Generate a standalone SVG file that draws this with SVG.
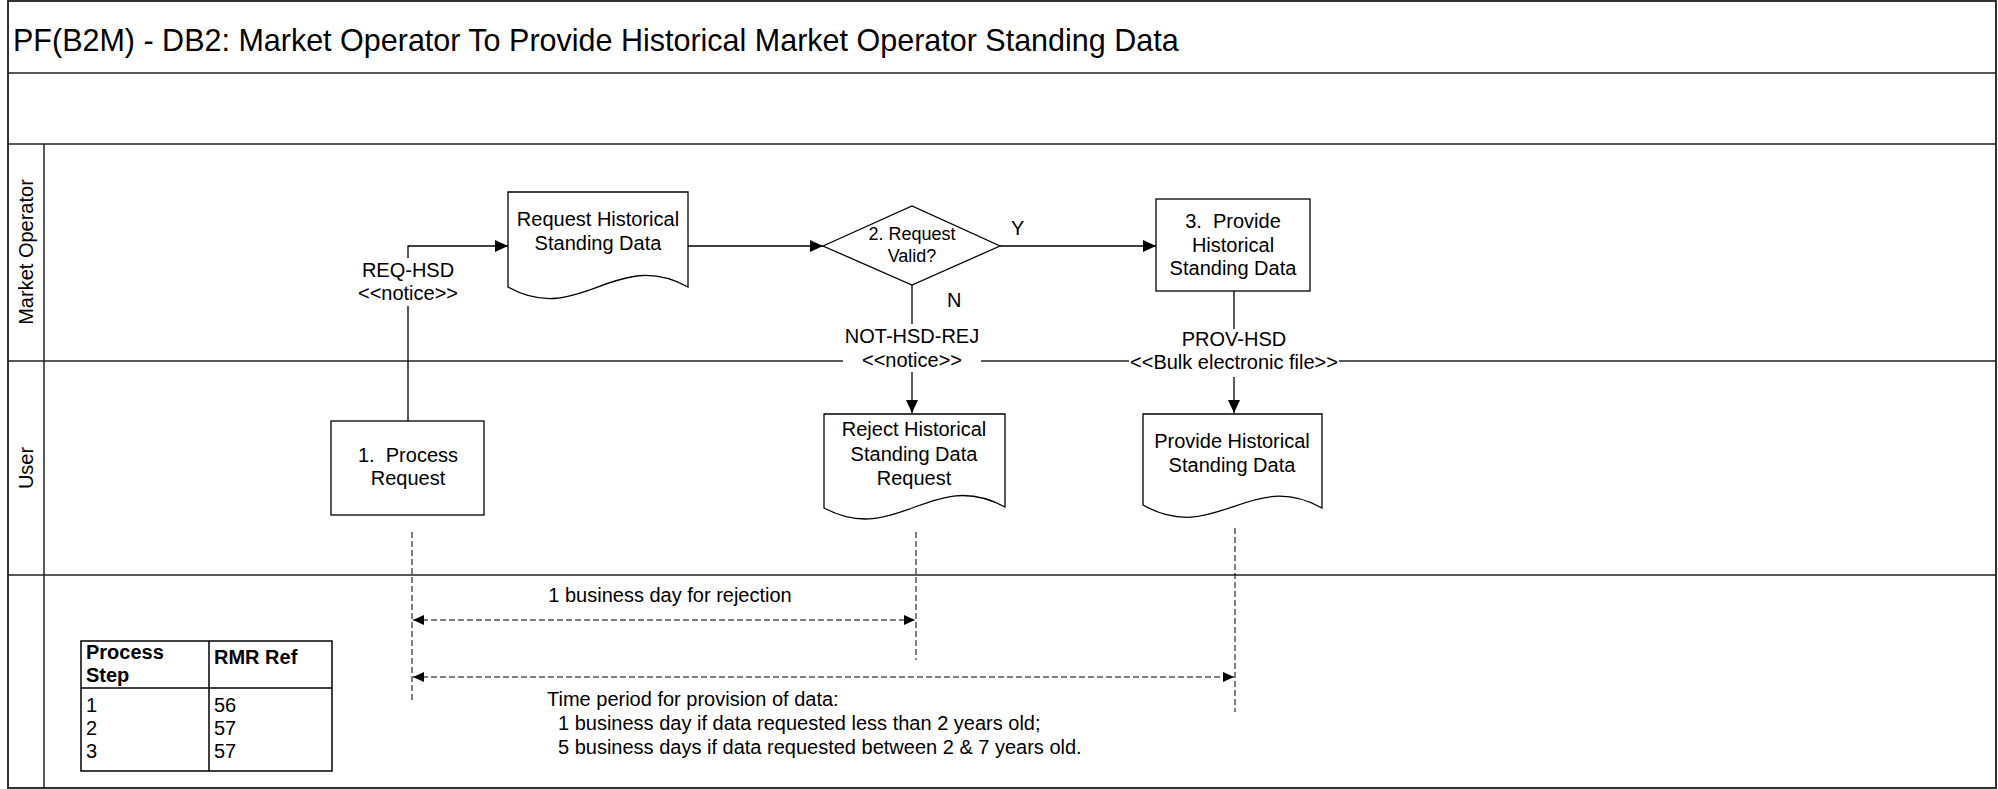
<svg xmlns="http://www.w3.org/2000/svg" width="1998" height="789" viewBox="0 0 1998 789">
<style>
text{font-family:"Liberation Sans",Arial,sans-serif;font-size:20px;fill:#000}
.c{text-anchor:middle}
.b{font-weight:bold}
.sh{fill:#fff;stroke:#000;stroke-width:1.3}
.ln{fill:none;stroke:#222;stroke-width:1.5}
.cn{fill:none;stroke:#000;stroke-width:1.3}
.ds{fill:none;stroke:#000;stroke-width:1;stroke-dasharray:6,3}
.bg{fill:#fff;stroke:none}
</style>
<defs>
<marker id="ah" markerUnits="userSpaceOnUse" markerWidth="14" markerHeight="12" refX="13" refY="6" orient="auto"><path d="M0,0 L13,6 L0,12 z" fill="#000"/></marker>
<marker id="ta" markerUnits="userSpaceOnUse" markerWidth="12" markerHeight="12" refX="11" refY="6" orient="auto-start-reverse"><path d="M0,1 L11,6 L0,11 z" fill="#000"/></marker>
</defs>
<rect width="1998" height="789" fill="#fff"/>
<g id="frame">
<rect x="8" y="1" width="1988" height="787" fill="none" stroke="#333" stroke-width="2"/>
<line class="ln" x1="8" y1="73" x2="1996" y2="73"/>
<line class="ln" x1="8" y1="144" x2="1996" y2="144"/>
<line class="ln" x1="8" y1="361" x2="1996" y2="361"/>
<line class="ln" x1="8" y1="575" x2="1996" y2="575"/>
<line class="ln" x1="44" y1="144" x2="44" y2="788"/>
<text x="13" y="51" style="font-size:30.5px">PF(B2M) - DB2: Market Operator To Provide Historical Market Operator Standing Data</text>
<text class="c" transform="translate(33,252) rotate(-90)">Market Operator</text>
<text class="c" transform="translate(33,468) rotate(-90)">User</text>
</g>
<g id="connectors">
<path class="cn" d="M408,421 V246 H508" marker-end="url(#ah)"/>
<path class="cn" d="M688,246 H823" marker-end="url(#ah)"/>
<path class="cn" d="M1000,246 H1156" marker-end="url(#ah)"/>
<path class="cn" d="M912,285 V413" marker-end="url(#ah)"/>
<path class="cn" d="M1234,291 V413" marker-end="url(#ah)"/>
<rect class="bg" x="360" y="258" width="96" height="48"/>
<text class="c" x="408" y="277">REQ-HSD</text>
<text class="c" x="408" y="300">&lt;&lt;notice&gt;&gt;</text>
<text x="1011" y="235">Y</text>
<text x="947" y="307">N</text>
<rect class="bg" x="843" y="324" width="138" height="48"/>
<text class="c" x="912" y="343">NOT-HSD-REJ</text>
<text class="c" x="912" y="367">&lt;&lt;notice&gt;&gt;</text>
<rect class="bg" x="1129" y="329" width="210" height="48"/>
<text class="c" x="1234" y="346">PROV-HSD</text>
<text class="c" x="1234" y="369">&lt;&lt;Bulk electronic file&gt;&gt;</text>
</g>
<g id="n-request-doc">
<path class="sh" d="M508,192 H688 V287 C615,247 580,327 508,287 Z"/>
<text class="c" x="598" y="226">Request Historical</text>
<text class="c" x="598" y="250">Standing Data</text>
</g>
<g id="n-decision">
<path class="sh" d="M823,246 L912,206 L1000,246 L912,285 Z"/>
<text class="c" x="912" y="240" style="font-size:18px">2. Request</text>
<text class="c" x="912" y="262" style="font-size:18px">Valid?</text>
</g>
<g id="n-provide-step">
<rect class="sh" x="1156" y="199" width="154" height="92"/>
<text class="c" x="1233" y="228" xml:space="preserve">3.  Provide</text>
<text class="c" x="1233" y="252">Historical</text>
<text class="c" x="1233" y="275">Standing Data</text>
</g>
<g id="n-process-request">
<rect class="sh" x="331" y="421" width="153" height="94"/>
<text class="c" x="408" y="462" xml:space="preserve">1.  Process</text>
<text class="c" x="408" y="485">Request</text>
</g>
<g id="n-reject-doc">
<path class="sh" d="M824,414 H1005 V507 C932,467 897,547 824,508 Z"/>
<text class="c" x="914" y="436">Reject Historical</text>
<text class="c" x="914" y="461">Standing Data</text>
<text class="c" x="914" y="485">Request</text>
</g>
<g id="n-provide-doc">
<path class="sh" d="M1143,414 H1322 V508 C1250,468 1215,546 1143,505 Z"/>
<text class="c" x="1232" y="448">Provide Historical</text>
<text class="c" x="1232" y="472">Standing Data</text>
</g>
<g id="timing">
<line class="ds" x1="412" y1="532" x2="412" y2="703"/>
<line class="ds" x1="916" y1="532" x2="916" y2="660"/>
<line class="ds" x1="1235" y1="528" x2="1235" y2="712"/>
<line class="ds" x1="413" y1="620" x2="915" y2="620" marker-start="url(#ta)" marker-end="url(#ta)"/>
<line class="ds" x1="413" y1="677" x2="1234" y2="677" marker-start="url(#ta)" marker-end="url(#ta)"/>
<text class="c" x="670" y="602">1 business day for rejection</text>
<text x="547" y="706">Time period for provision of data:</text>
<text x="558" y="730">1 business day if data requested less than 2 years old;</text>
<text x="558" y="754">5 business days if data requested between 2 &amp; 7 years old.</text>
</g>
<g id="table">
<rect x="81" y="641" width="251" height="130" fill="#fff" stroke="#000" stroke-width="1.5"/>
<line x1="81" y1="688" x2="332" y2="688" stroke="#000" stroke-width="1.5"/>
<line x1="209" y1="641" x2="209" y2="771" stroke="#000" stroke-width="1.5"/>
<text class="b" x="86" y="659">Process</text>
<text class="b" x="86" y="682">Step</text>
<text class="b" x="214" y="664">RMR Ref</text>
<text x="86" y="712">1</text>
<text x="86" y="735">2</text>
<text x="86" y="758">3</text>
<text x="214" y="712">56</text>
<text x="214" y="735">57</text>
<text x="214" y="758">57</text>
</g>
</svg>
